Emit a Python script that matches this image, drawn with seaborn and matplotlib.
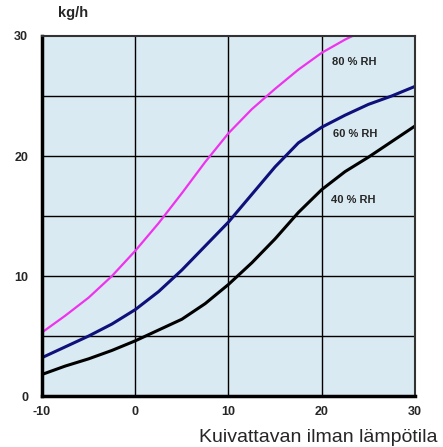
import matplotlib
matplotlib.use("Agg")
import matplotlib.pyplot as plt
import seaborn as sns
import pandas as pd

# lämpötila (°C) ja kuivausteho (kg/h) luettuna kuvasta
temp_40 = [-10, -7.5, -5, -2.5, 0, 2.5, 5, 7.5, 10, 12.5, 15, 17.5, 20, 22.5, 25, 27.5, 30]
kgh_40 = [1.8, 2.5, 3.1, 3.8, 4.6, 5.5, 6.4, 7.7, 9.3, 11.1, 13.1, 15.3, 17.2, 18.7, 19.9, 21.2, 22.5]

temp_60 = [-10, -7.5, -5, -2.5, 0, 2.5, 5, 7.5, 10, 12.5, 15, 17.5, 20, 22.5, 25, 27.5, 30]
kgh_60 = [3.2, 4.1, 5.0, 6.0, 7.2, 8.7, 10.5, 12.5, 14.5, 16.8, 19.1, 21.1, 22.4, 23.4, 24.3, 25.0, 25.8]

temp_80 = [-10, -7.5, -5, -2.5, 0, 2.5, 5, 7.5, 10, 12.5, 15, 17.5, 20, 22.5, 23.3]
kgh_80 = [5.3, 6.7, 8.2, 10.0, 12.1, 14.4, 16.9, 19.5, 21.9, 23.9, 25.6, 27.2, 28.6, 29.7, 30.0]

labels = ["40 % RH", "60 % RH", "80 % RH"]
x_ticks = [-10, 0, 10, 20, 30]
y_ticks = [0, 10, 20, 30]

sns.set_style("white")
plt.rcParams['font.family'] = ['Liberation Sans', 'DejaVu Sans']

fig = plt.figure(figsize=(4.43, 4.47), dpi=100)
ax = fig.add_axes([0.0948, 0.114, 0.842, 0.8055])
ax.set_facecolor('#d9eaf2')

sns.lineplot(x=temp_40, y=kgh_40, ax=ax, color='black', linewidth=2.2)
sns.lineplot(x=temp_60, y=kgh_60, ax=ax, color='#10107a', linewidth=2.2)
sns.lineplot(x=temp_80, y=kgh_80, ax=ax, color='#ee33ee', linewidth=1.6)

ax.set_xlim(-10, 30)
ax.set_ylim(0, 30)

# ruudukko
for gx in [0, 10, 20]:
    ax.axvline(gx, color='black', linewidth=1.0, zorder=0.5)
for gy in [5, 10, 15, 20, 25]:
    ax.axhline(gy, color='black', linewidth=1.0, zorder=0.5)

ax.set_xticks(x_ticks)
ax.set_yticks(y_ticks)
ax.set_xticklabels([str(t) for t in x_ticks], fontweight='bold', fontsize=9)
ax.set_yticklabels([str(t) for t in y_ticks], fontweight='bold', fontsize=9)
ax.tick_params(axis='both', length=4, width=1.5, direction='out', pad=3, color='black')
ax.tick_params(axis='y', pad=6)

for side in ['left', 'bottom']:
    ax.spines[side].set_linewidth(2.5)
    ax.spines[side].set_color('black')
for side in ['top', 'right']:
    ax.spines[side].set_linewidth(1.5)
    ax.spines[side].set_color('#333333')

ax.text(21.1, 27.8, labels[2], fontsize=8, fontweight='bold', va='center')
ax.text(21.2, 21.8, labels[1], fontsize=8, fontweight='bold', va='center')
ax.text(21.0, 16.3, labels[0], fontsize=8, fontweight='bold', va='center')

fig.text(0.131, 0.972, "kg/h", fontsize=10.5, fontweight='bold', ha='left', va='center')
fig.text(0.987, 0.022, "Kuivattavan ilman lämpötila", fontsize=14, ha='right', va='center')

fig.savefig("out.png", dpi=100)
